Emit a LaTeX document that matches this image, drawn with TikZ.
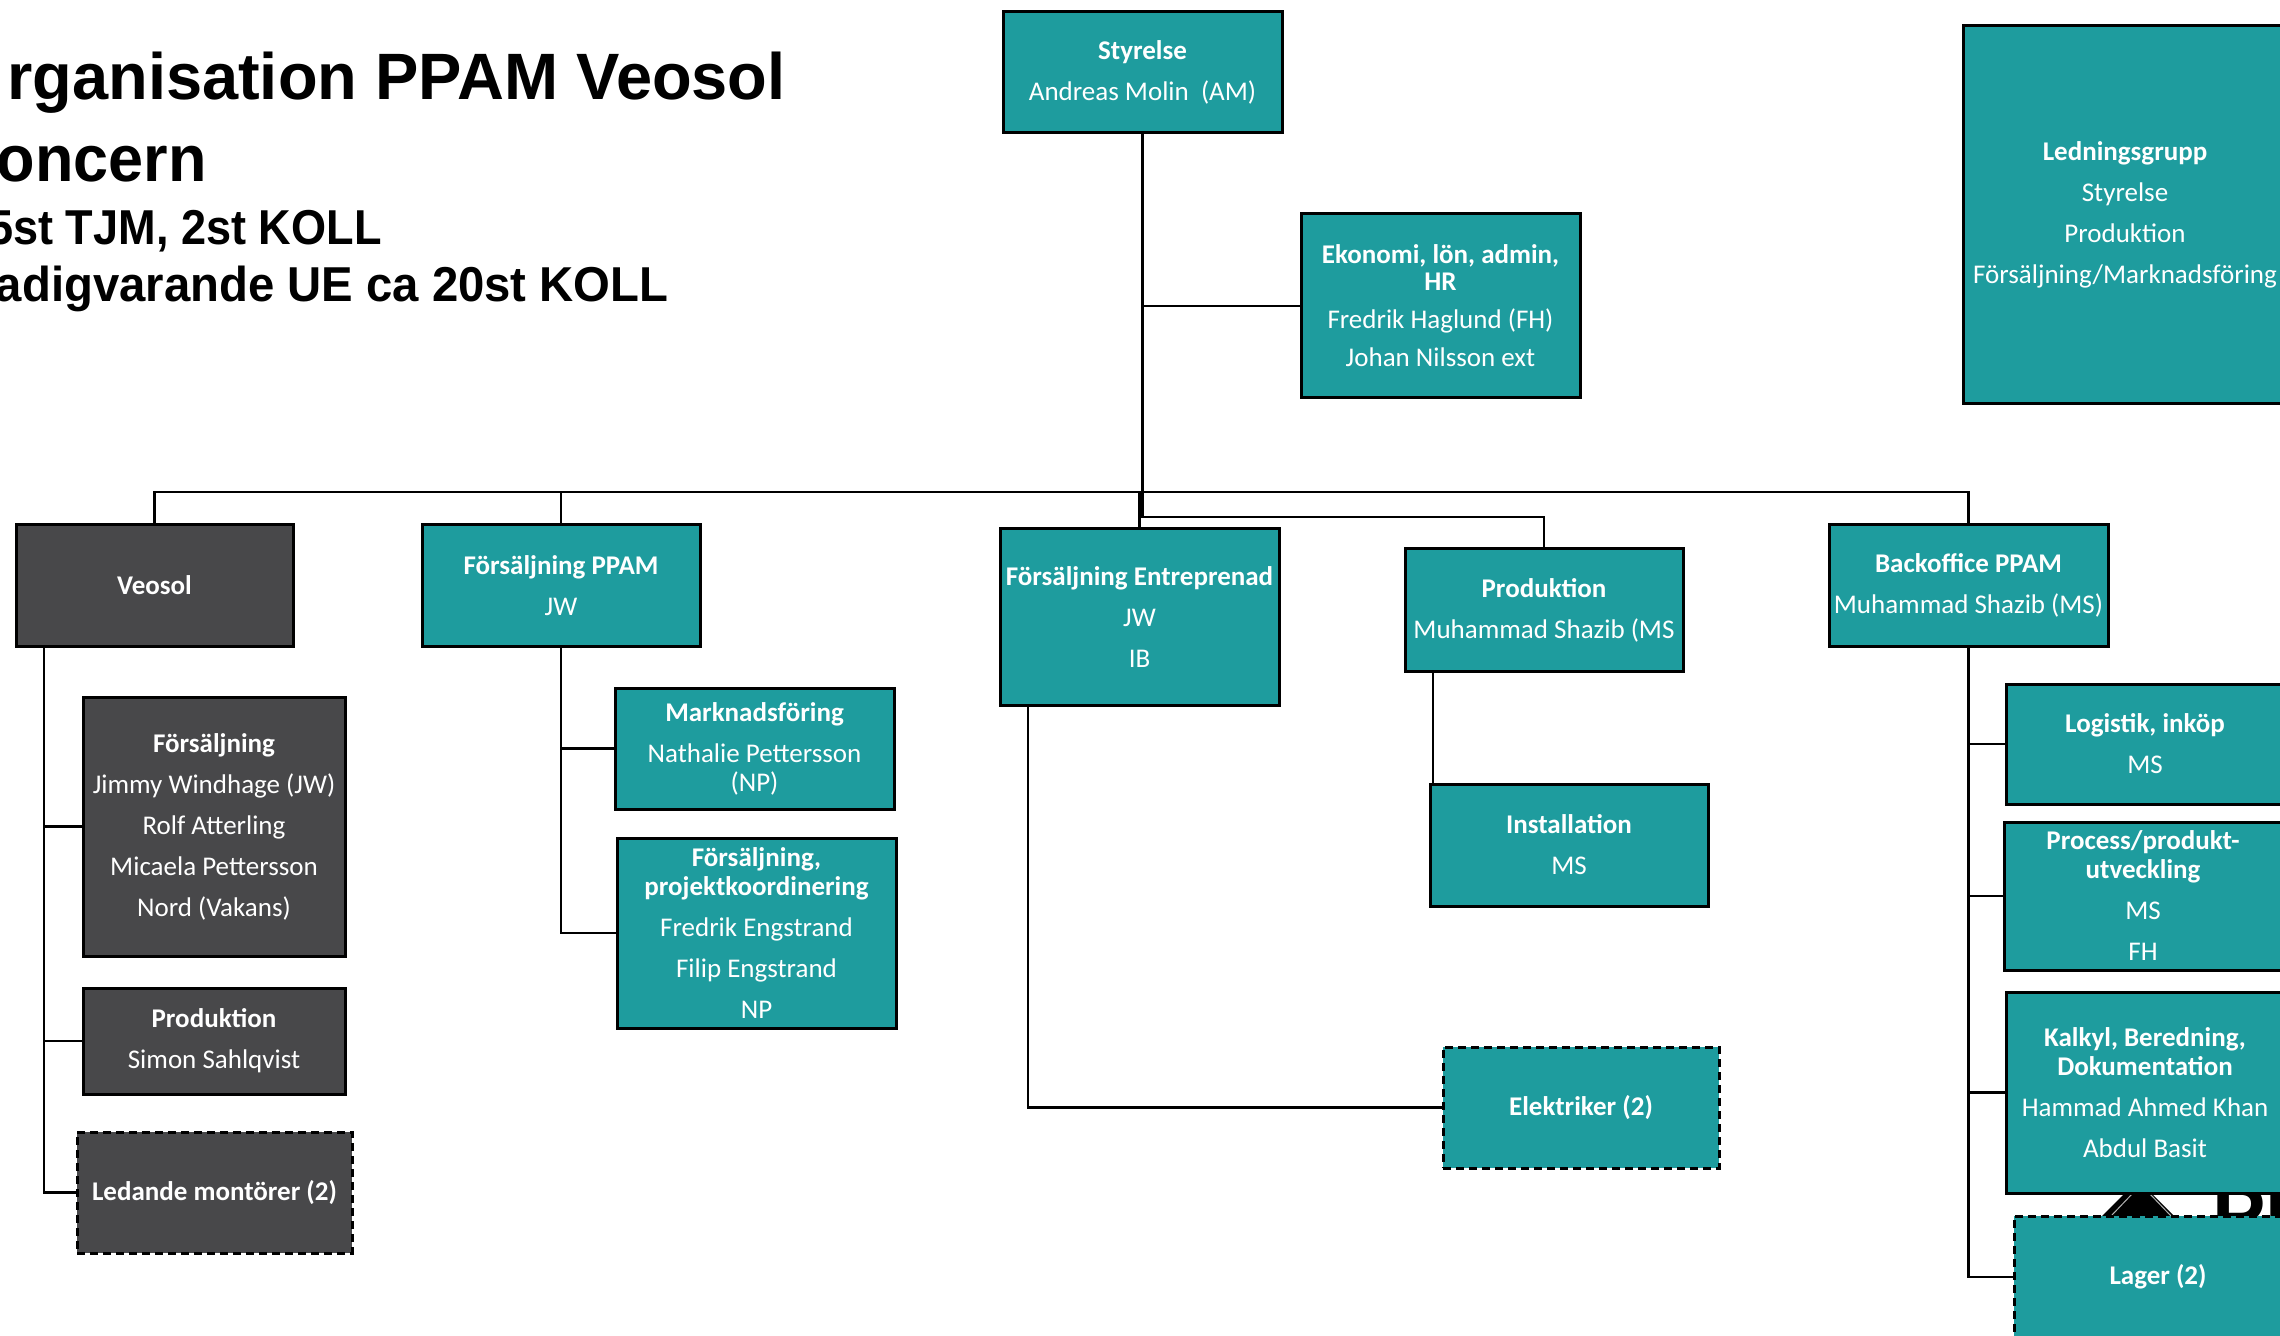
\documentclass[tikz,border=0pt]{standalone}
\usepackage{fontspec}
\setmainfont{Carlito}
\newfontfamily\titlefont{Liberation Sans}
\usepackage{graphicx}
\definecolor{boxteal}{HTML}{1E9C9E}
\definecolor{boxgray}{HTML}{48484A}
\tikzset{
  orgbox/.style={draw=black, line width=1.5pt, fill=boxteal, text=white, align=center,
    inner sep=1pt, font=\fontsize{13.5}{14.5}\selectfont},
  graybox/.style={orgbox, fill=boxgray},
  dashbox/.style={dash pattern=on 4pt off 2.5pt},
  conn/.style={draw=black, line width=1.3pt},
  bigtitle/.style={inner sep=0pt, font=\titlefont\bfseries\fontsize{32.8}{36}\selectfont},
  subtitle/.style={inner sep=0pt, font=\titlefont\bfseries\fontsize{24.5}{28}\selectfont}
}
\begin{document}
\begin{tikzpicture}[x=0.5pt,y=-0.5pt]
\useasboundingbox (0,0) rectangle (2280,1336);
\fill[white] (0,0) rectangle (2280,1336);
\clip (0,0) rectangle (2280,1336);

% title
\node[bigtitle, anchor=base east] (t1) at (786,100) {\scalebox{0.99}[1]{rganisation PPAM Veosol}};
\node[bigtitle, anchor=base east] (t2) at (207,182) {\scalebox{0.96}[1]{oncern}};
\node[subtitle, anchor=base east] (t3) at (382,245) {\scalebox{0.92}[1]{5st TJM, 2st KOLL}};
\node[subtitle, anchor=base east] (t4) at (669,302) {\scalebox{0.965}[1]{adigvarande UE ca 20st KOLL}};

% logo fragment behind the boxes
\fill[black] (2138,1180) -- (2218,1260) -- (2058,1260) -- cycle;
\draw[gray!60, line width=0.5pt] (2133,1193) -- (2111,1216) (2149,1193) -- (2171,1216);
\node[anchor=north west, inner sep=0pt, font=\titlefont\bfseries\fontsize{40}{40}\selectfont] (logo) at (2212,1186) {PPAM};

% top level
\node[orgbox, minimum width=139.5pt, minimum height=60.5pt] (sty) at (1142.5,72.5)
  {\textbf{Styrelse}\\[6pt] Andreas Molin~~(AM)};
\node[orgbox, minimum width=139.5pt, minimum height=92pt] (eko) at (1440.5,306)
  {\textbf{Ekonomi, lön, admin,}\\[-1pt] \textbf{HR}\\[4.5pt] Fredrik Haglund (FH)\\[4.5pt] Johan Nilsson ext};
\node[orgbox, minimum width=162pt, minimum height=189pt] (led) at (2125,215)
  {\textbf{Ledningsgrupp}\\[6pt] Styrelse\\[6pt] Produktion\\[6pt] Försäljning/Marknadsföring};

% second level
\node[graybox, minimum width=138.5pt, minimum height=60.5pt] (veo) at (154.5,585.5) {\textbf{Veosol}};
\node[orgbox, minimum width=139pt, minimum height=60.5pt] (fppam) at (561,585.5)
  {\textbf{Försäljning PPAM}\\[6pt] JW};
\node[orgbox, minimum width=139.5pt, minimum height=88pt] (fent) at (1139.5,617)
  {\textbf{Försäljning Entreprenad}\\[6pt] JW\\[6pt] IB};
\node[orgbox, minimum width=139pt, minimum height=61pt] (prod) at (1544,610)
  {\textbf{Produktion}\\[6pt] Muhammad Shazib (MS};
\node[orgbox, minimum width=139.5pt, minimum height=60.5pt] (back) at (1968.5,585.5)
  {\textbf{Backoffice PPAM}\\[6pt] Muhammad Shazib (MS)};

% Veosol children
\node[graybox, minimum width=131pt, minimum height=129.5pt] (vfors) at (214,826.5)
  {\textbf{Försäljning}\\[6pt] Jimmy Windhage (JW)\\[6pt] Rolf Atterling\\[6pt] Micaela Pettersson\\[6pt] Nord (Vakans)};
\node[graybox, minimum width=131pt, minimum height=53pt] (vprod) at (214,1041)
  {\textbf{Produktion}\\[6pt] Simon Sahlqvist};
\node[graybox, dashbox, minimum width=137.5pt, minimum height=60.5pt] (vled) at (214.5,1192.5)
  {\textbf{Ledande montörer (2)}};

% Försäljning PPAM children
\node[orgbox, minimum width=139.5pt, minimum height=60.5pt] (mark) at (754.5,748.5)
  {\textbf{Marknadsföring}\\[6pt] Nathalie Pettersson\\ (NP)};
\node[orgbox, minimum width=139.5pt, minimum height=95pt] (fpk) at (756.5,933)
  {\textbf{Försäljning,}\\ \textbf{projektkoordinering}\\[6pt] Fredrik Engstrand\\[6pt] Filip Engstrand\\[6pt] NP};

% Produktion / Entreprenad children
\node[orgbox, minimum width=139pt, minimum height=61pt] (inst) at (1569,845)
  {\textbf{Installation}\\[6pt] MS};
\node[orgbox, dashbox, minimum width=138pt, minimum height=60.5pt] (elek) at (1581,1107.5)
  {\textbf{Elektriker (2)}};

% Backoffice children
\node[orgbox, minimum width=139pt, minimum height=60pt] (logi) at (2145,744)
  {\textbf{Logistik, inköp}\\[6pt] MS};
\node[orgbox, minimum width=139pt, minimum height=74pt] (proc) at (2143,896)
  {\textbf{Process/produkt-}\\ \textbf{utveckling}\\[6pt] MS\\[6pt] FH};
\node[orgbox, minimum width=139pt, minimum height=100.5pt] (kalk) at (2145,1092.5)
  {\textbf{Kalkyl, Beredning,}\\ \textbf{Dokumentation}\\[6pt] Hammad Ahmed Khan\\[6pt] Abdul Basit};
\node[orgbox, dashbox, minimum width=144pt, minimum height=61pt] (lager) at (2158,1277)
  {\textbf{Lager (2)}};

% connectors
\coordinate (bus) at (1142.5,492);
\draw[conn] (sty.south) -- (bus);
\draw[conn] (sty.south |- eko.west) -- (eko.west);
\draw[conn] (veo.north) |- (bus) -| (back.north);
\draw[conn] (fppam.north) -- (fppam.north |- bus);
\draw[conn] (fent.north) -- (fent.north |- bus);
\draw[conn] (bus) -- ++(0,25) -| (prod.north);

\coordinate (vtop) at (44,646);
\draw[conn] (vtop) |- (vled.west);
\draw[conn] (vtop |- vfors.west) -- (vfors.west);
\draw[conn] (vtop |- vprod.west) -- (vprod.west);

\draw[conn] (fppam.south) |- (fpk.west);
\draw[conn] (fppam.south |- mark.west) -- (mark.west);

\coordinate (fentb) at (1028,705);
\draw[conn] (fentb) |- (elek.west);

\coordinate (prodb) at (1433,671);
\draw[conn] (prodb) -- (prodb |- inst.north);

\draw[conn] (back.south) |- (lager.west);
\draw[conn] (back.south |- logi.west) -- (logi.west);
\draw[conn] (back.south |- proc.west) -- (proc.west);
\draw[conn] (back.south |- kalk.west) -- (kalk.west);
\end{tikzpicture}
\end{document}
